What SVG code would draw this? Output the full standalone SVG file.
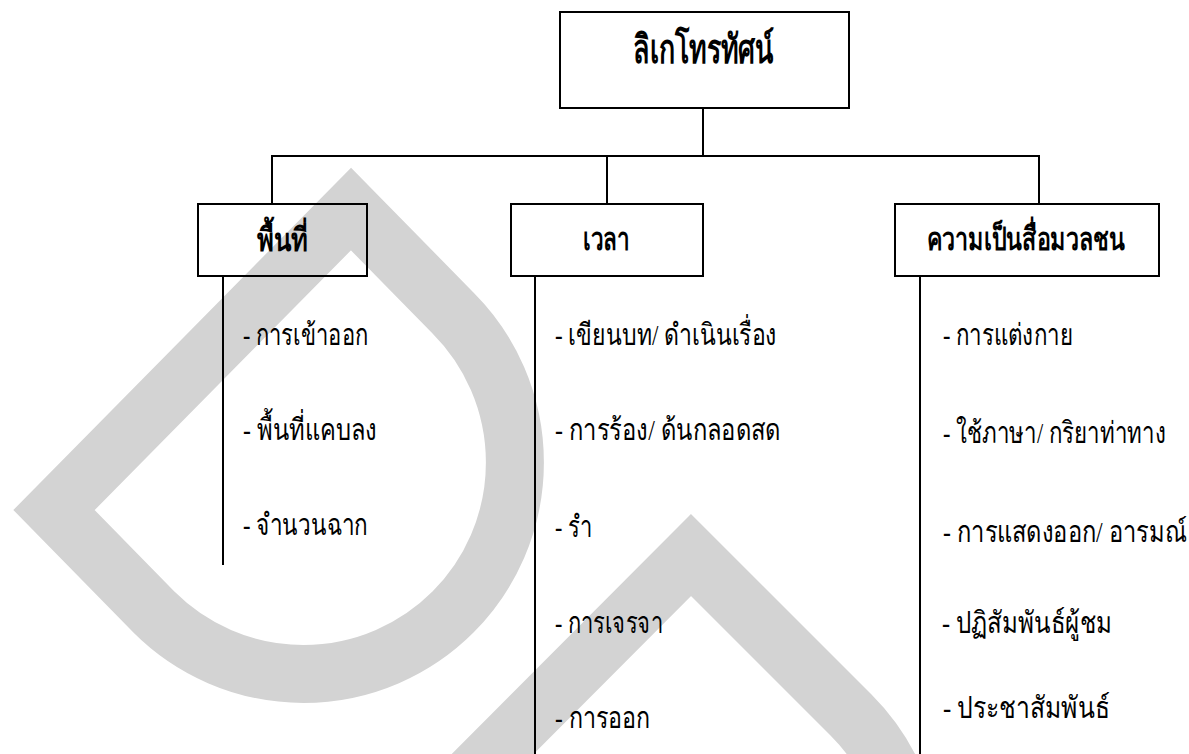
<svg xmlns="http://www.w3.org/2000/svg" width="1189" height="754" viewBox="0 0 1189 754">
<style>
.wm{fill:none;stroke:#d3d3d3;stroke-width:58;stroke-linejoin:miter}
.box{fill:none;stroke:#000;stroke-width:2}
.ln{stroke:#000;stroke-width:2;fill:none}
.title{font-family:'Liberation Serif',serif;font-weight:bold;font-size:32px;fill:#000;text-anchor:middle}
.root{font-size:40px}
.item{font-family:'Liberation Serif',serif;font-size:30px;fill:#000}
.end{text-anchor:end}
</style>
<rect width="1189" height="754" fill="#fff"/>
<g id="watermark">
<path class="wm" d="M 153.9 612 L 54 510 L 351 209 L 453 313 A 211.5 211.5 0 0 1 453 612 A 211.5 211.5 0 0 1 153.9 612 Z"/>
<path class="wm" d="M 551.8 1014.2 L 391 856 L 691 555 L 851 715 A 211.5 211.5 0 0 1 851 1014.2 A 211.5 211.5 0 0 1 551.8 1014.2 Z"/>
</g>
<g id="connectors">
<line class="ln" x1="703" y1="108" x2="703" y2="156"/>
<line class="ln" x1="271" y1="156" x2="1040" y2="156"/>
<line class="ln" x1="272" y1="156" x2="272" y2="204"/>
<line class="ln" x1="607" y1="156" x2="607" y2="204"/>
<line class="ln" x1="1039" y1="156" x2="1039" y2="204"/>
<line class="ln" x1="223" y1="276" x2="223" y2="565"/>
<line class="ln" x1="535" y1="276" x2="535" y2="754"/>
<line class="ln" x1="920" y1="276" x2="920" y2="754"/>
</g>
<g id="root">
<rect class="box" x="560" y="12" width="289" height="96"/>
<text class="title root" x="703" y="63" textLength="140" lengthAdjust="spacingAndGlyphs">ลิเกโทรทัศน์</text>
</g>
<g id="node-space">
<rect class="box" x="198" y="204" width="169" height="72"/>
<text class="title" x="282.5" y="251" textLength="51" lengthAdjust="spacingAndGlyphs">พื้นที่</text>
<text class="item" x="243" y="345" textLength="125" lengthAdjust="spacingAndGlyphs">- การเข้าออก</text>
<text class="item" x="243" y="440" textLength="134" lengthAdjust="spacingAndGlyphs">- พื้นที่แคบลง</text>
<text class="item" x="243" y="535" textLength="125" lengthAdjust="spacingAndGlyphs">- จำนวนฉาก</text>
</g>
<g id="node-time">
<rect class="box" x="511" y="204" width="192" height="72"/>
<text class="title" x="606.5" y="250" textLength="47" lengthAdjust="spacingAndGlyphs">เวลา</text>
<text class="item" x="555" y="345" textLength="222" lengthAdjust="spacingAndGlyphs">- เขียนบท/ ดำเนินเรื่อง</text>
<text class="item" x="555" y="440" textLength="225" lengthAdjust="spacingAndGlyphs">- การร้อง/ ด้นกลอดสด</text>
<text class="item" x="555" y="537" textLength="37" lengthAdjust="spacingAndGlyphs">- รำ</text>
<text class="item" x="555" y="633" textLength="108" lengthAdjust="spacingAndGlyphs">- การเจรจา</text>
<text class="item" x="555" y="728" textLength="95" lengthAdjust="spacingAndGlyphs">- การออก</text>
</g>
<g id="node-media">
<rect class="box" x="895" y="204" width="264" height="72"/>
<text class="title" x="1026" y="250" textLength="198" lengthAdjust="spacingAndGlyphs">ความเป็นสื่อมวลชน</text>
<text class="item" x="943" y="345" textLength="130" lengthAdjust="spacingAndGlyphs">- การแต่งกาย</text>
<text class="item end" x="1166" y="443" textLength="223" lengthAdjust="spacingAndGlyphs">- ใช้ภาษา/ กริยาท่าทาง</text>
<text class="item end" x="1187" y="542" textLength="244" lengthAdjust="spacingAndGlyphs">- การแสดงออก/ อารมณ์</text>
<text class="item" x="942" y="633" textLength="170" lengthAdjust="spacingAndGlyphs">- ปฏิสัมพันธ์ผู้ชม</text>
<text class="item" x="943" y="718" textLength="167" lengthAdjust="spacingAndGlyphs">- ประชาสัมพันธ์</text>
</g>
</svg>
